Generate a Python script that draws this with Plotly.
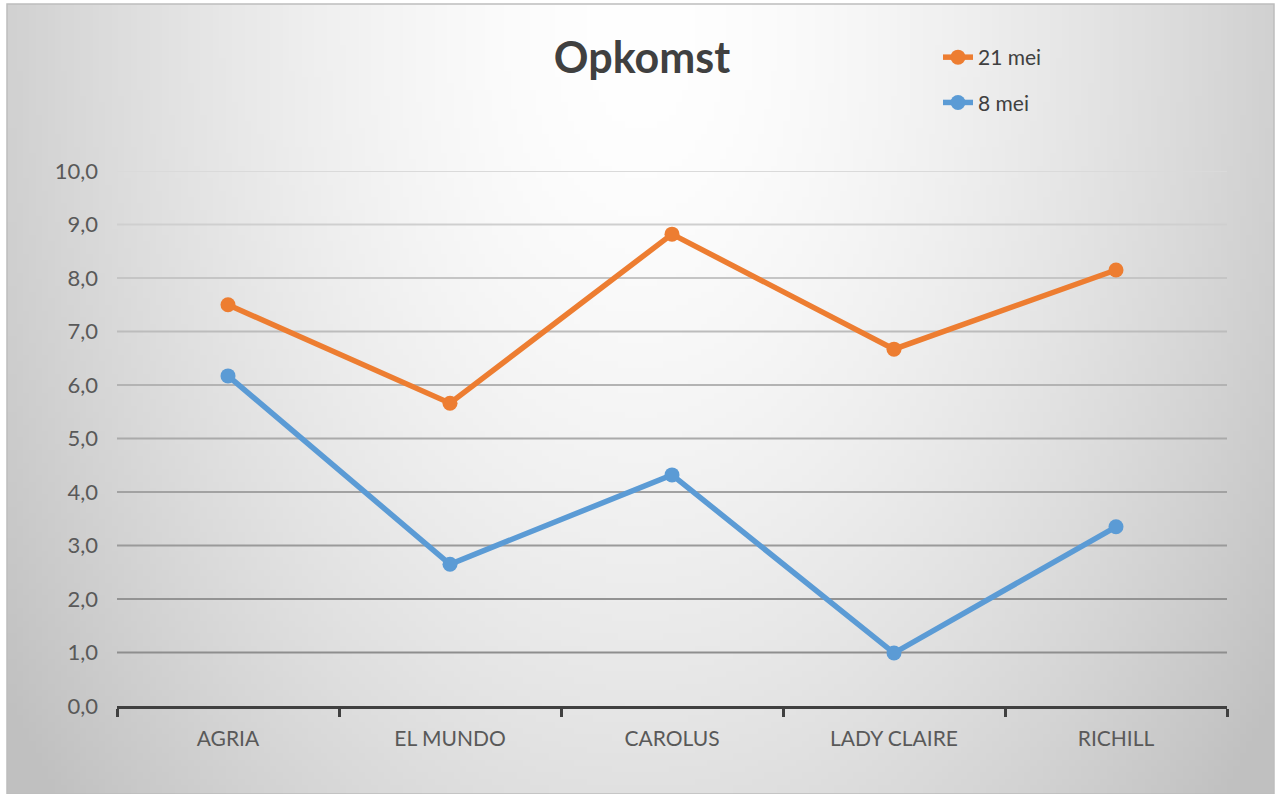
import math, zlib, struct, base64
import plotly.graph_objects as go

# ---- data ----
categories = ["AGRIA", "EL MUNDO", "CAROLUS", "LADY CLAIRE", "RICHILL"]
mei21 = [7.50, 5.66, 8.82, 6.67, 8.15]
mei8 = [6.17, 2.65, 4.32, 0.99, 3.35]
y_ticks = [0, 1, 2, 3, 4, 5, 6, 7, 8, 9, 10]

ORANGE = "#ED7D31"
BLUE = "#5B9BD5"
FONT = "Lato"

W, H = 1277, 794
ML, MR, MT, MB = 117, 1277 - 1227, 171, 794 - 706
PW, PH = W - ML - MR, H - MT - MB


# ---- background radial gradient as a small PNG ----
def make_png(w, h):
    raw = bytearray()
    for j in range(h):
        raw.append(0)
        for i in range(w):
            dx = ((i + 0.5) / w - 0.5) * 1267 / 650
            dy = ((j + 0.5) / h) * 790 / 1000 - 0.04
            r = math.sqrt(dx * dx + max(dy, 0) ** 2)
            v = 255 - 48 * r ** 1.6
            v = int(max(192, min(255, v)))
            raw += bytes((v, v, v))
    def chunk(t, d):
        c = struct.pack(">I", len(d)) + t + d
        return c + struct.pack(">I", zlib.crc32(t + d) & 0xffffffff)
    png = b"\x89PNG\r\n\x1a\n"
    png += chunk(b"IHDR", struct.pack(">IIBBBBB", w, h, 8, 2, 0, 0, 0))
    png += chunk(b"IDAT", zlib.compress(bytes(raw), 9))
    png += chunk(b"IEND", b"")
    return "data:image/png;base64," + base64.b64encode(png).decode()

bg = make_png(200, 125)

def px2paper_x(px):
    return (px - ML) / PW

def px2paper_y(py):
    return (H - MB - py) / PH

fig = go.Figure()

fig.add_trace(go.Scatter(
    x=categories, y=mei21, name="21 mei", mode="lines+markers",
    line=dict(color=ORANGE, width=5.5), marker=dict(size=15, color=ORANGE),
    legendgroup="a",
))
fig.add_trace(go.Scatter(
    x=categories, y=mei8, name="8 mei", mode="lines+markers",
    line=dict(color=BLUE, width=5.5), marker=dict(size=15, color=BLUE),
    legendgroup="b",
))

# gridlines with a light-to-dark tint (as in the reference)
shapes = []
for t in y_ticks[1:]:
    f = t / 10.0
    c = int(138 + (218 - 138) * f ** 1.3)
    shapes.append(dict(type="line", xref="paper", yref="y", x0=0, x1=1, y0=t, y1=t,
                       line=dict(color=f"rgb({c},{c},{c})", width=2), layer="below"))
# frame
shapes.append(dict(type="rect", xref="paper", yref="paper",
                   x0=px2paper_x(7), x1=px2paper_x(1274), y0=px2paper_y(794), y1=px2paper_y(4),
                   line=dict(color="#bdbdbd", width=1.5), fillcolor="rgba(0,0,0,0)", layer="below"))

fig.update_layout(
    width=W, height=H,
    margin=dict(l=ML, r=MR, t=MT, b=MB, autoexpand=False),
    paper_bgcolor="white", plot_bgcolor="rgba(0,0,0,0)",
    separators=",.",
    font=dict(family=FONT, color="#595959", size=20),
    title=dict(text="<b>Opkomst</b>", x=642 / W, xanchor="center", xref="container",
               y=1 - 58 / H, yanchor="middle", yref="container",
               font=dict(family=FONT, size=43, color="#404040")),
    legend=dict(xref="container", yref="container", x=938 / W, y=1 - 37 / H,
                xanchor="left", yanchor="top", bgcolor="rgba(0,0,0,0)",
                font=dict(size=21, color="#404040"), tracegroupgap=15,
                itemwidth=30),
    showlegend=True,
    images=[dict(source=bg, xref="paper", yref="paper",
                 x=px2paper_x(7), y=px2paper_y(4),
                 sizex=px2paper_x(1274) - px2paper_x(7),
                 sizey=px2paper_y(4) - px2paper_y(794),
                 xanchor="left", yanchor="top", sizing="stretch", layer="below")],
    shapes=shapes,
)

fig.update_xaxes(
    type="category", range=[-0.5, 4.5], showgrid=False, zeroline=False,
    showline=True, linecolor="#404040", linewidth=3,
    ticks="outside", tickson="boundaries", ticklen=8, tickwidth=3, tickcolor="#404040",
    tickfont=dict(size=21, color="#595959"), ticklabelstandoff=12,
    fixedrange=True,
)
fig.update_yaxes(
    range=[0, 10], tickvals=y_ticks, tickformat=".1f", showgrid=False,
    zeroline=False, showline=False, ticks="",
    tickfont=dict(size=22, color="#595959"), ticklabelstandoff=18,
    fixedrange=True,
)

fig.write_html("out.html", config={"displayModeBar": False},
               post_script="document.body.style.margin='0';")
